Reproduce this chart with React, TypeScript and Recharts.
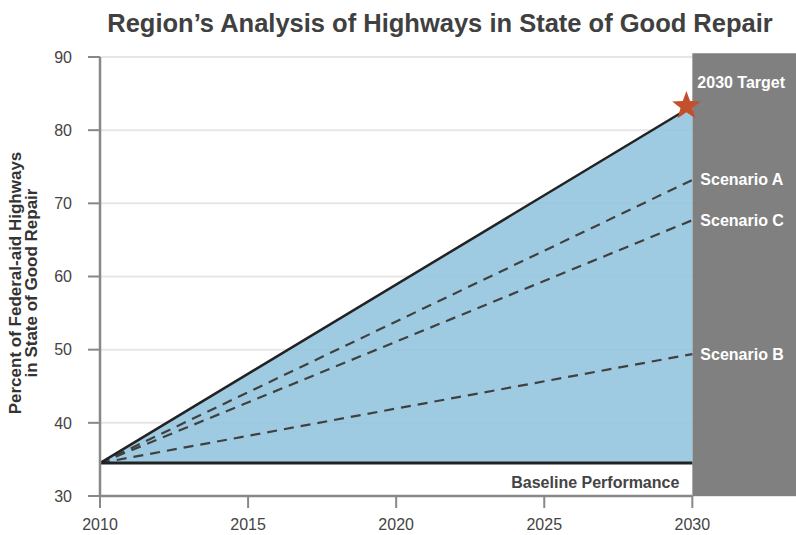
import {
  ComposedChart,
  Area,
  Line,
  XAxis,
  YAxis,
  CartesianGrid,
  ReferenceArea,
  ReferenceLine,
  ReferenceDot,
  Label,
} from "recharts";

const years = [2010, 2030];
const baseline = [34.5, 34.5];
const target = [34.5, 83.3];
const scenarioA = [34.5, 73.2];
const scenarioC = [34.5, 67.7];
const scenarioB = [34.5, 49.4];

const xTicks = [2010, 2015, 2020, 2025, 2030];
const yTicks = [30, 40, 50, 60, 70, 80, 90];

const data = years.map((year, i) => ({
  year,
  baseline: baseline[i],
  target: target[i],
  band: [baseline[i], target[i]],
  a: scenarioA[i],
  c: scenarioC[i],
  b: scenarioB[i],
}));

const font = "'Liberation Sans', Arial, Helvetica, sans-serif";

const endLabel = (text: string, dx: number, dy: number, anchor: string, fill: string) =>
  (props: any) => {
    const { x, y, index } = props;
    if (index !== years.length - 1) return null;
    return (
      <text
        x={x + dx}
        y={y + dy}
        textAnchor={anchor}
        dominantBaseline="central"
        fill={fill}
        fontSize={16}
        fontWeight="bold"
        fontFamily={font}
      >
        {text}
      </text>
    );
  };

const starShape = (props: any) => {
  const { cx, cy } = props;
  const outer = 15;
  const inner = 6.2;
  const pts: string[] = [];
  for (let i = 0; i < 10; i++) {
    const r = i % 2 === 0 ? outer : inner;
    const ang = -Math.PI / 2 + (i * Math.PI) / 5;
    pts.push(`${cx + r * Math.cos(ang)},${cy + r * Math.sin(ang)}`);
  }
  return <polygon points={pts.join(" ")} fill="#c1502b" />;
};

const yLabel = () => {
  const cy = 283;
  return (
    <text
      transform={`rotate(-90, 0, ${cy})`}
      x={0}
      y={cy}
      textAnchor="middle"
      fill="#333"
      fontSize={17}
      fontWeight="bold"
      fontFamily={font}
    >
      <tspan x={0} y={cy + 21}>Percent of Federal-aid Highways</tspan>
      <tspan x={0} y={cy + 37}>in State of Good Repair</tspan>
    </text>
  );
};

export default function App() {
  return (
    <div style={{ position: "absolute", left: 0, top: 0, width: 796, height: 535, background: "#fff" }}>
      <div
        style={{
          position: "absolute",
          left: 0,
          top: 8,
          width: 880,
          textAlign: "center",
          fontFamily: font,
          fontWeight: "bold",
          fontSize: 25.5,
          color: "#404040",
          lineHeight: "30px",
          whiteSpace: "nowrap",
        }}
      >
        Region’s Analysis of Highways in State of Good Repair
      </div>
      <ComposedChart
        width={796}
        height={535}
        data={data}
        margin={{ top: 57, right: 0, bottom: 0, left: 0 }}
      >
        <CartesianGrid horizontal vertical={false} stroke="#e6e6e6" strokeWidth={2} />
        <XAxis
          type="number"
          dataKey="year"
          domain={[2010, 2033.5]}
          ticks={xTicks}
          axisLine={false}
          tickLine={{ stroke: "#888", strokeWidth: 2 }}
          tickSize={12}
          tickMargin={11}
          height={39}
          tick={{ fill: "#444", fontSize: 16, fontFamily: font }}
        />
        <YAxis
          type="number"
          domain={[30, 90]}
          ticks={yTicks}
          width={100}
          axisLine={{ stroke: "#888", strokeWidth: 2.5 }}
          tickLine={{ stroke: "#888", strokeWidth: 2 }}
          tickSize={12}
          tickMargin={16}
          tick={{ fill: "#444", fontSize: 16, fontFamily: font }}
        >
          <Label content={yLabel} />
        </YAxis>
        <ReferenceArea
          x1={2030}
          x2={2033.5}
          y1={30}
          y2={90.5}
          fill="#808080"
          fillOpacity={1}
          stroke="none"
          ifOverflow="visible"
        />
        <ReferenceLine
          segment={[
            { x: 2010, y: 30 },
            { x: 2030, y: 30 },
          ]}
          stroke="#888"
          strokeWidth={2.5}
        />
        <Area
          dataKey="band"
          type="linear"
          fill="#93c5df"
          fillOpacity={0.9}
          stroke="none"
          isAnimationActive={false}
        />
        <Line
          dataKey="a"
          type="linear"
          stroke="#404040"
          strokeWidth={2.2}
          strokeDasharray="10 7"
          dot={false}
          isAnimationActive={false}
          label={endLabel("Scenario A", 8, 0, "start", "#fff")}
        />
        <Line
          dataKey="c"
          type="linear"
          stroke="#404040"
          strokeWidth={2.2}
          strokeDasharray="10 7"
          dot={false}
          isAnimationActive={false}
          label={endLabel("Scenario C", 8, 0, "start", "#fff")}
        />
        <Line
          dataKey="b"
          type="linear"
          stroke="#404040"
          strokeWidth={2.2}
          strokeDasharray="10 7"
          dot={false}
          isAnimationActive={false}
          label={endLabel("Scenario B", 8, 0, "start", "#fff")}
        />
        <Line
          dataKey="baseline"
          type="linear"
          stroke="#222"
          strokeWidth={3}
          dot={false}
          isAnimationActive={false}
          label={endLabel("Baseline Performance", -13, 19, "end", "#444")}
        />
        <Line
          dataKey="target"
          type="linear"
          stroke="#222"
          strokeWidth={2.5}
          dot={false}
          isAnimationActive={false}
          label={endLabel("2030 Target", 5, -24, "start", "#fff")}
        />
        <ReferenceDot x={2029.8} y={83.3} r={15} shape={starShape} ifOverflow="visible" />
      </ComposedChart>
    </div>
  );
}
